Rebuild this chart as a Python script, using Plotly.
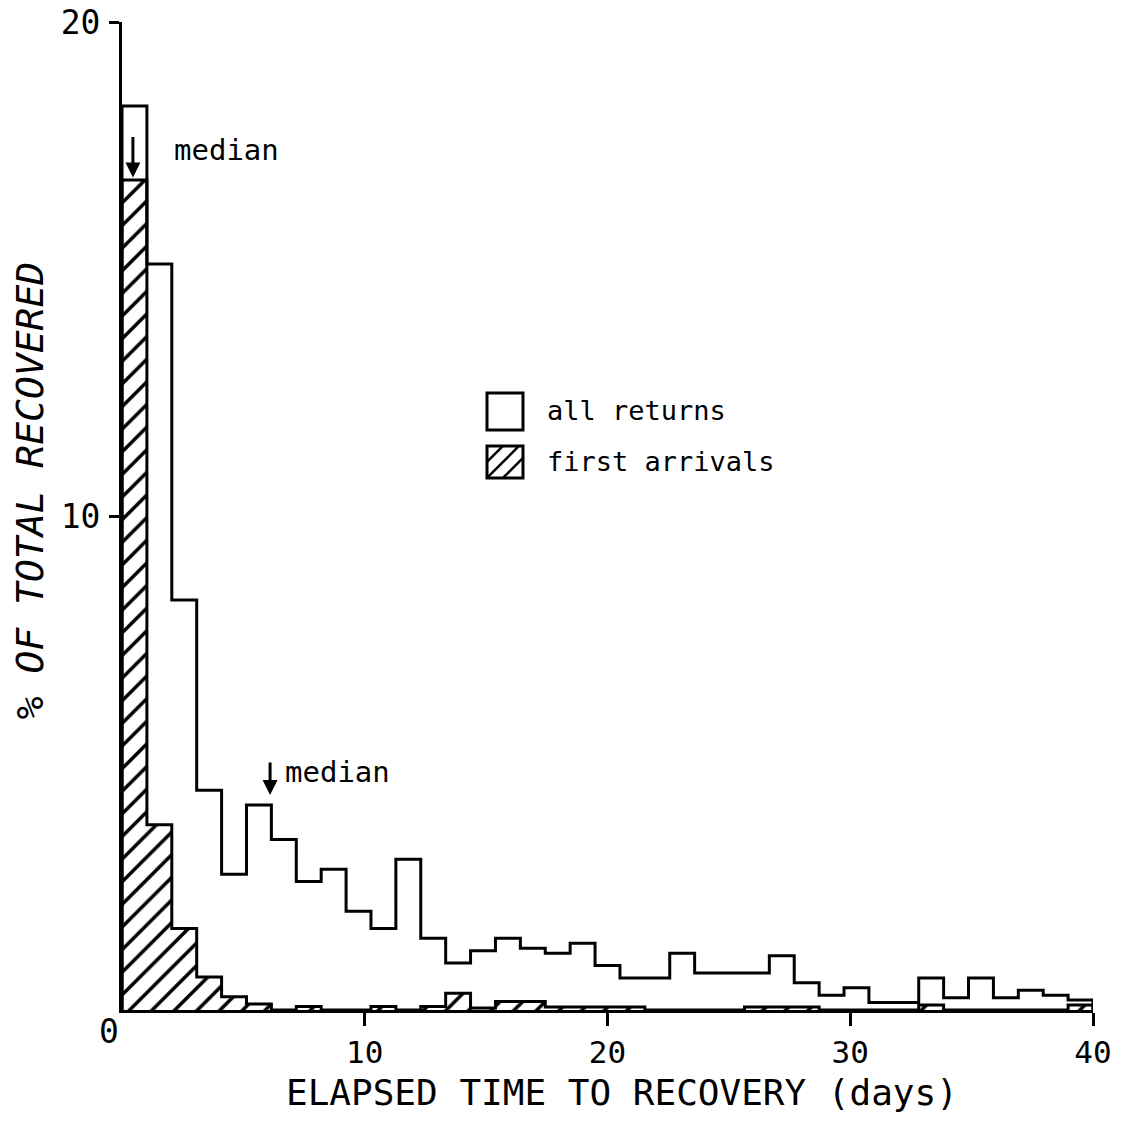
import plotly.graph_objects as go

# ---------------- data ----------------
X_MAX = 40  # days shown on the axis
all_returns = [18.3, 15.1, 8.3, 4.45, 2.75, 4.15, 3.45, 2.6, 2.85, 2.0,
               1.65, 3.05, 1.45, 0.95, 1.2, 1.45, 1.25, 1.15, 1.35, 0.9,
               0.65, 0.65, 1.15, 0.75, 0.75, 0.75, 1.1, 0.55, 0.3, 0.45,
               0.15, 0.15, 0.65, 0.25, 0.65, 0.25, 0.4, 0.3, 0.2]
first_arrivals = [16.8, 3.75, 1.65, 0.67, 0.27, 0.12, 0.0, 0.07, 0.0, 0.0,
                  0.07, 0.0, 0.07, 0.34, 0.04, 0.17, 0.17, 0.06, 0.06, 0.06,
                  0.06, 0.0, 0.0, 0.0, 0.0, 0.06, 0.06, 0.06, 0.0, 0.0,
                  0.0, 0.0, 0.1, 0.0, 0.0, 0.0, 0.0, 0.0, 0.1]
median_all = 6.1      # days
median_first = 0.45   # days
x_ticks = [10, 20, 30, 40]
y_ticks = [10, 20]

FONT = "DejaVu Sans Mono"

n = len(all_returns)
bw = X_MAX / n
edges = [i * bw for i in range(n + 1)]
centers = [(edges[i] + edges[i + 1]) / 2 for i in range(n)]


def step_xy(vals):
    xs = [edges[0]] + edges[:n] + [edges[n], edges[n]]
    ys = [0] + list(vals) + [vals[-1], 0]
    return xs, ys


fig = go.Figure()

fig.add_trace(go.Bar(
    x=centers, y=first_arrivals, width=bw,
    marker=dict(color="white", line=dict(width=0),
                pattern=dict(shape="/", fgcolor="black", bgcolor="white",
                             size=16, solidity=0.22, fillmode="replace")),
    showlegend=False, hoverinfo="skip"))

fx, fy = step_xy(first_arrivals)
fig.add_trace(go.Scatter(x=fx, y=fy, mode="lines", line_shape="hv",
                         line=dict(color="black", width=3),
                         cliponaxis=False, showlegend=False))

ax_, ay_ = step_xy(all_returns)
fig.add_trace(go.Scatter(x=ax_, y=ay_, mode="lines", line_shape="hv",
                         line=dict(color="black", width=3),
                         cliponaxis=False, showlegend=False))

annotations = []
# median arrows and labels
annotations.append(dict(x=median_first, y=first_arrivals[0] + 0.05, xref="x", yref="y",
                        text="", showarrow=True, ax=0, ay=-42,
                        arrowhead=2, arrowsize=1.0, arrowwidth=3, arrowcolor="black"))
annotations.append(dict(x=2.05, y=17.4, xref="x", yref="y", text="median",
                        showarrow=False, xanchor="left", yanchor="middle",
                        font=dict(family=FONT, size=29, color="black")))
annotations.append(dict(x=median_all, y=all_returns[5] + 0.2, xref="x", yref="y",
                        text="", showarrow=True, ax=0, ay=-34,
                        arrowhead=2, arrowsize=1.0, arrowwidth=3, arrowcolor="black"))
annotations.append(dict(x=6.65, y=4.82, xref="x", yref="y", text="median",
                        showarrow=False, xanchor="left", yanchor="middle",
                        font=dict(family=FONT, size=29, color="black")))
# legend texts
annotations.append(dict(x=0.4356, y=0.607, xref="paper", yref="paper", text="all returns",
                        showarrow=False, xanchor="left", yanchor="middle",
                        font=dict(family=FONT, size=27, color="black")))
annotations.append(dict(x=0.4356, y=0.5547, xref="paper", yref="paper", text="first arrivals",
                        showarrow=False, xanchor="left", yanchor="middle",
                        font=dict(family=FONT, size=27, color="black")))
# corner zero
annotations.append(dict(x=0, y=0, xref="paper", yref="paper", text="0",
                        showarrow=False, xanchor="right", yanchor="top",
                        xshift=-1, yshift=0,
                        font=dict(family=FONT, size=33, color="black")))
# axis titles
annotations.append(dict(x=0.515, y=-0.084, xref="paper", yref="paper",
                        text="ELAPSED TIME TO RECOVERY (days)",
                        showarrow=False, xanchor="center", yanchor="middle",
                        font=dict(family=FONT, size=36, color="black")))
annotations.append(dict(x=-0.0947, y=0.526, xref="paper", yref="paper",
                        text="% OF TOTAL RECOVERED", textangle=-90,
                        showarrow=False, xanchor="center", yanchor="middle",
                        font=dict(family=FONT, size=38, color="black", style="italic")))

# legend swatches
shapes = []
lx = 0.3759
shapes.append(dict(type="rect", xref="paper", yref="paper", xsizemode="pixel", ysizemode="pixel",
                   xanchor=lx, yanchor=0.587, x0=0, x1=36, y0=0, y1=37,
                   line=dict(color="black", width=3), fillcolor="white"))
hy = 0.5385
shapes.append(dict(type="rect", xref="paper", yref="paper", xsizemode="pixel", ysizemode="pixel",
                   xanchor=lx, yanchor=hy, x0=0, x1=36, y0=0, y1=32,
                   line=dict(color="black", width=3), fillcolor="white"))
for (x0, y0, x1, y1) in [(0, 16, 16, 32), (0, 0, 32, 32), (16, 0, 36, 20)]:
    shapes.append(dict(type="line", xref="paper", yref="paper", xsizemode="pixel", ysizemode="pixel",
                       xanchor=lx, yanchor=hy, x0=x0, y0=y0, x1=x1, y1=y1,
                       line=dict(color="black", width=2.5)))

fig.update_layout(
    width=1126, height=1130,
    margin=dict(l=122, r=33, t=22, b=120, autoexpand=False),
    paper_bgcolor="white", plot_bgcolor="white",
    bargap=0, showlegend=False,
    annotations=annotations, shapes=shapes,
    xaxis=dict(range=[0, X_MAX], showgrid=False, zeroline=False, automargin=False,
               showline=True, linecolor="black", linewidth=3,
               ticks="outside", ticklen=13, tickwidth=2.5, tickcolor="black",
               tickvals=x_ticks, ticktext=[str(v) for v in x_ticks],
               ticklabelstandoff=0, ticklabeloverflow="allow",
               tickfont=dict(family=FONT, size=31, color="black")),
    yaxis=dict(range=[0, 20], showgrid=False, zeroline=False, automargin=False,
               showline=True, linecolor="black", linewidth=3,
               ticks="outside", ticklen=10, tickwidth=2.5, tickcolor="black",
               tickvals=y_ticks, ticktext=[str(v) for v in y_ticks],
               ticklabelstandoff=2, ticklabeloverflow="allow",
               tickfont=dict(family=FONT, size=33, color="black")),
)

fig.write_html("out.html",
               config={"displayModeBar": False},
               post_script="document.body.style.margin='0';document.body.style.overflow='hidden';")
